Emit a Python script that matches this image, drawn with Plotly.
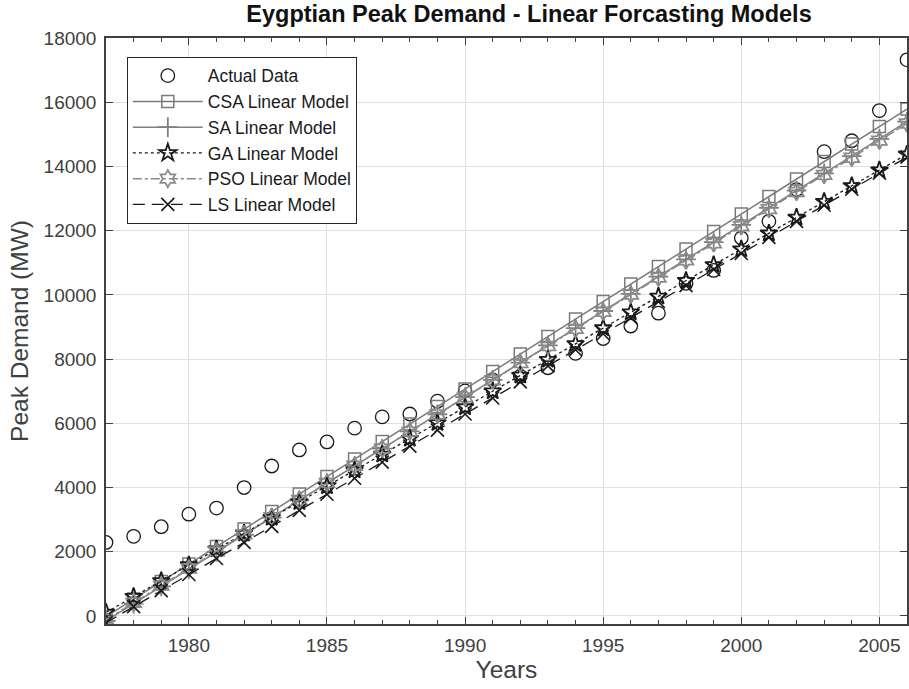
import plotly.graph_objects as go

years = list(range(1977, 2007))
actual = [2290, 2480, 2780, 3170, 3360, 4000, 4670, 5170, 5420, 5850,
          6200, 6290, 6690, 7010, 7350, 7470, 7730, 8180, 8640, 9030,
          9430, 10360, 10760, 11770, 12290, 13280, 14460, 14800, 15740, 17320]
csa = [-20, 525, 1070, 1615, 2160, 2705, 3250, 3795, 4340, 4885,
       5430, 5975, 6520, 7065, 7610, 8155, 8700, 9245, 9790, 10335,
       10880, 11425, 11970, 12515, 13060, 13605, 14150, 14695, 15240, 15785]
sa = [-150, 386, 922, 1458, 1994, 2530, 3066, 3602, 4138, 4674,
      5210, 5746, 6282, 6818, 7354, 7890, 8426, 8962, 9498, 10034,
      10570, 11106, 11642, 12178, 12714, 13250, 13786, 14322, 14858, 15394]
ga = [110, 602, 1094, 1586, 2078, 2570, 3062, 3554, 4046, 4538,
      5030, 5522, 6014, 6506, 6998, 7490, 7982, 8474, 8966, 9458,
      9950, 10442, 10934, 11426, 11918, 12410, 12902, 13394, 13886, 14378]
pso = [-120, 413, 946, 1479, 2012, 2545, 3078, 3611, 4144, 4677,
       5210, 5743, 6276, 6809, 7342, 7875, 8408, 8941, 9474, 10007,
       10540, 11073, 11606, 12139, 12672, 13205, 13738, 14271, 14804, 15337]
ls = [-210, 290, 790, 1290, 1790, 2290, 2790, 3290, 3790, 4290,
      4790, 5290, 5790, 6290, 6790, 7290, 7790, 8290, 8790, 9290,
      9790, 10290, 10790, 11290, 11790, 12290, 12790, 13290, 13790, 14290]

FONT = "Liberation Sans, Arial, Helvetica, sans-serif"
AX = "#404040"

fig = go.Figure()
fig.add_trace(go.Scatter(x=years, y=actual, mode="markers", name="Actual Data",
                         marker=dict(symbol="circle-open", size=13.5, color="#1a1a1a",
                                     line=dict(width=1.3))))
fig.add_trace(go.Scatter(x=years, y=csa, mode="lines+markers", name="CSA Linear Model",
                         line=dict(color="#7a7a7a", width=1.5),
                         marker=dict(symbol="square-open", size=12, color="#7a7a7a",
                                     line=dict(width=1.5))))
fig.add_trace(go.Scatter(x=years, y=sa, mode="lines+markers", name="SA Linear Model",
                         line=dict(color="#808080", width=1.5),
                         marker=dict(symbol="cross-thin-open", size=14, color="#808080",
                                     line=dict(width=1.8))))
fig.add_trace(go.Scatter(x=years, y=ga, mode="lines+markers", name="GA Linear Model",
                         line=dict(color="#1a1a1a", width=1.3, dash="dot"),
                         marker=dict(symbol="star-open", size=13, color="#1a1a1a",
                                     line=dict(width=1.8))))
fig.add_trace(go.Scatter(x=years, y=pso, mode="lines+markers", name="PSO Linear Model",
                         line=dict(color="#8a8a8a", width=1.5, dash="dashdot"),
                         marker=dict(symbol="hexagram-open", size=13, color="#8a8a8a",
                                     line=dict(width=1.8))))
fig.add_trace(go.Scatter(x=years, y=ls, mode="lines+markers", name="LS Linear Model",
                         line=dict(color="#1a1a1a", width=1.3, dash="12px,7px"),
                         marker=dict(symbol="x-thin-open", size=13, color="#1a1a1a",
                                     line=dict(width=1.6))))

fig.update_layout(
    width=909, height=689,
    margin=dict(l=106, r=0, t=38, b=65),
    paper_bgcolor="white", plot_bgcolor="white",
    font=dict(family=FONT, color=AX, size=19),
    title=dict(text="<b>Eygptian Peak Demand - Linear Forcasting Models</b>",
               x=529 / 909, xref="container", xanchor="center",
               y=1 - 14 / 689, yref="container", yanchor="middle",
               font=dict(family=FONT, size=23.5, color="#111111")),
    showlegend=True,
    legend=dict(x=0.026, y=0.968, xanchor="left", yanchor="top",
                bgcolor="white", bordercolor="#262626", borderwidth=1,
                font=dict(family=FONT, size=17.5, color="#1a1a1a"),
                itemwidth=70, tracegroupgap=0),
)
fig.update_xaxes(
    range=[1977, 2006], tick0=1980, dtick=5, ticks="inside", ticklen=7, tickwidth=1.3,
    tickcolor=AX, showline=True, linecolor=AX, linewidth=1.5, mirror="ticks",
    showgrid=True, gridcolor="#dfdfdf", gridwidth=1, zeroline=False,
    minor=dict(dtick=1, tick0=1977, ticks="inside", ticklen=4, tickcolor=AX, showgrid=False),
    tickfont=dict(size=19, color=AX), ticklabelstandoff=3,
    title=dict(text="Years", font=dict(size=24.5, color=AX), standoff=4),
)
fig.update_yaxes(
    range=[-250, 18000], tick0=0, dtick=2000, tickformat="d",
    ticks="inside", ticklen=7, tickwidth=1.3,
    tickcolor=AX, showline=True, linecolor=AX, linewidth=1.5, mirror="ticks",
    showgrid=True, gridcolor="#dfdfdf", gridwidth=1, zeroline=False,
    tickfont=dict(size=19, color=AX), ticklabelstandoff=4,
    title=dict(text="Peak Demand (MW)", font=dict(size=24.5, color=AX), standoff=8),
)

fig.write_html("out.html", config={"displayModeBar": False},
               post_script="document.body.style.margin='0';document.body.style.overflow='hidden';")
